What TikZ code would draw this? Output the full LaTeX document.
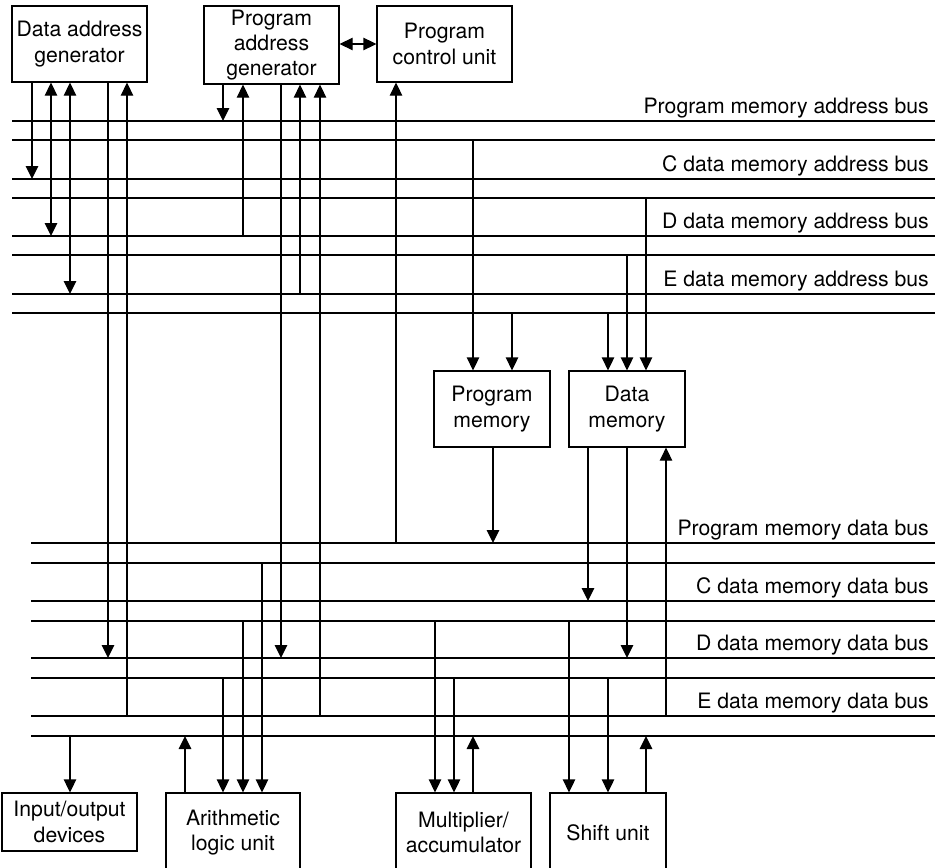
\documentclass[tikz,border=0pt]{standalone}
\usepackage{fontspec}
\setmainfont{TeX Gyre Heros}
\usepackage{tikz}
\usetikzlibrary{arrows.meta,positioning,calc}
\tikzset{
  >={Triangle[length=13pt,width=12.5pt]},
  unit/.style={draw, line width=1.3pt, inner sep=0pt, align=center,
    minimum width=135pt, minimum height=76pt, font=\fontsize{21.2}{25.4}\selectfont},
  buslbl/.style={anchor=base east, inner sep=0pt, font=\fontsize{21.2}{25.4}\selectfont},
  wire/.style={line width=1.3pt}
}
\begin{document}
\begin{tikzpicture}[x=1pt,y=-1pt]
  \useasboundingbox (0,0) rectangle (939,867);
  \coordinate (rt) at (935,0);
  \coordinate (lbl) at (929,0);

  % functional units
  \node[unit] (dag) at (79.5,44) {Data address\\generator};
  \node[unit,minimum height=78pt] (pag) at (271.5,45) {Program\\address\\generator};
  \node[unit] (pcu) at (444.5,44) {Program\\control unit};
  \node[unit,minimum width=116pt] (pm) at (492,409) {Program\\memory};
  \node[unit,minimum width=116pt] (dm) at (627,409) {Data\\memory};
  \node[unit,minimum height=58pt] (io) at (69.5,822) {Input/output\\devices};
  \node[unit,minimum width=134pt,minimum height=79pt] (alu) at (233,832.5) {Arithmetic\\logic unit};
  \node[unit,minimum height=79pt] (mac) at (463.5,832.5) {Multiplier/\\accumulator};
  \node[unit,minimum width=116pt,minimum height=79pt] (shu) at (608,832.5) {Shift unit};

  % address buses
  \foreach \n/\y/\t in {pa/121/Program memory address bus,ca/179/C data memory address bus,
                        da/236/D data memory address bus,ea/294/E data memory address bus}{
    \coordinate (\n1) at (12,\y);
    \coordinate (\n2) at (12,\y+19);
    \draw[wire] (\n1) -- (\n1 -| rt);
    \draw[wire] (\n2) -- (\n2 -| rt);
    \node[buslbl] at ([yshift=8pt]\n1 -| lbl) {\t};
  }
  % data buses
  \foreach \n/\y/\t in {pd/543/Program memory data bus,cd/601/C data memory data bus,
                        dd/658/D data memory data bus,ed/716/E data memory data bus}{
    \coordinate (\n1) at (31,\y);
    \coordinate (\n2) at (31,\y+20);
    \draw[wire] (\n1) -- (\n1 -| rt);
    \draw[wire] (\n2) -- (\n2 -| rt);
    \node[buslbl] at ([yshift=8pt]\n1 -| lbl) {\t};
  }

  % taps between units and buses
  \foreach \a/\x/\b/\tip in {dag.south/32/ca1/->, dag.south/51/da1/<->, dag.south/70/ea1/<->,
      dag.south/108/dd1/->, dag.south/127/ed1/<-,
      pag.south/223/pa1/->, pag.south/243/da1/<-, pag.south/281/dd1/->,
      pag.south/300/ea1/<-, pag.south/320/ed1/<-,
      pcu.south/396/pd1/<-,
      pm.north/473/pa2/<-, pm.north/512/ea2/<-, pm.south/493/pd1/->,
      dm.north/608/ea2/<-, dm.north/627/da2/<-, dm.north/646/ca2/<-,
      dm.south/588/cd1/->, dm.south/627/dd1/->, dm.south/666/ed1/<-}
    \draw[wire,\tip] (\a -| \x,0) -- (\x,0 |- \b);

  \foreach \a/\x/\b/\tip in {io.north/70/ed2/<-,
      alu.north/185/ed2/->, alu.north/223/dd2/<-, alu.north/243/cd2/<-, alu.north/262/pd2/<-,
      mac.north/435/cd2/<-, mac.north/454/dd2/<-, mac.north/473/ed2/->,
      shu.north/569/cd2/<-, shu.north/608/dd2/<-, shu.north/646/ed2/->}
    \draw[wire,\tip] (\a -| \x,0) -- (\x,0 |- \b);

  \draw[wire,<->] (pag.east |- pcu) -- (pcu.west);
\end{tikzpicture}
\end{document}
